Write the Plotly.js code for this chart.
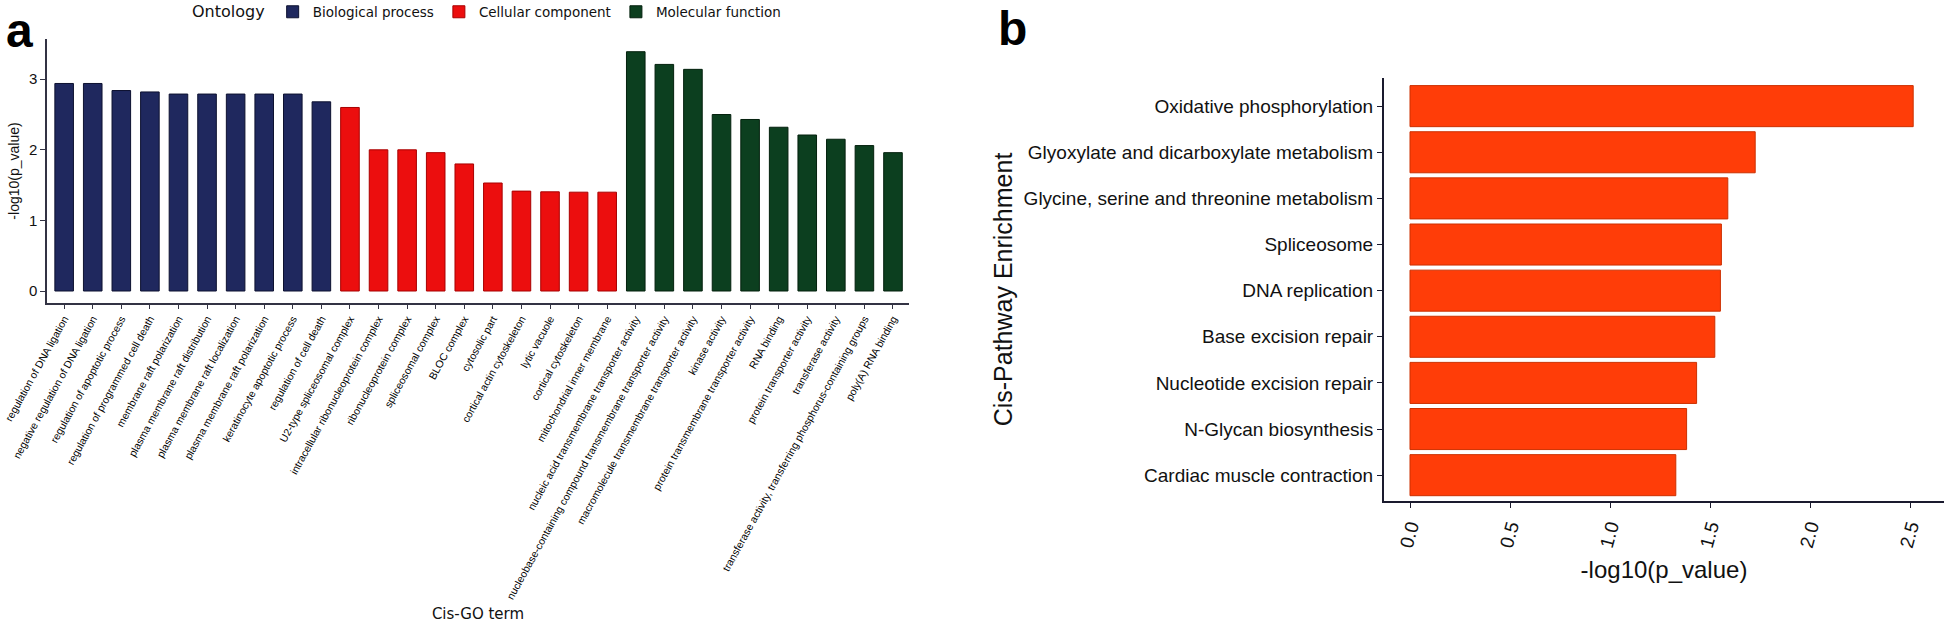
<!DOCTYPE html>
<html>
<head>
<meta charset="utf-8">
<script src="https://cdn.plot.ly/plotly-3.0.1.min.js"></script>
<style>html,body{margin:0;padding:0;background:#fff;}#chart{width:1946px;height:623px;}</style>
</head>
<body>
<div id="chart"></div>
<script>
// ---- Panel a: Cis-GO term enrichment ----
const bpTerms = ["regulation of DNA ligation","negative regulation of DNA ligation","regulation of apoptotic process","regulation of programmed cell death","membrane raft polarization","plasma membrane raft distribution","plasma membrane raft localization","plasma membrane raft polarization","keratinocyte apoptotic process","regulation of cell death"];
const bpValues = [2.94, 2.94, 2.84, 2.82, 2.79, 2.79, 2.79, 2.79, 2.79, 2.68];
const ccTerms = ["U2-type spliceosomal complex","intracellular ribonucleoprotein complex","ribonucleoprotein complex","spliceosomal complex","BLOC complex","cytosolic part","cortical actin cytoskeleton","lytic vacuole","cortical cytoskeleton","mitochondrial inner membrane"];
const ccValues = [2.60, 2.00, 2.00, 1.96, 1.80, 1.53, 1.415, 1.405, 1.40, 1.40];
const mfTerms = ["nucleic acid transmembrane transporter activity","nucleobase-containing compound transmembrane transporter activity","macromolecule transmembrane transporter activity","kinase activity","protein transmembrane transporter activity","RNA binding","protein transporter activity","transferase activity","transferase activity, transferring phosphorus-containing groups","poly(A) RNA binding"];
const mfValues = [3.39, 3.21, 3.14, 2.50, 2.43, 2.32, 2.21, 2.15, 2.06, 1.96];
const ontologyNames = ["Biological process","Cellular component","Molecular function"];

// ---- Panel b: Cis-Pathway enrichment (top to bottom) ----
const pathways = ["Oxidative phosphorylation","Glyoxylate and dicarboxylate metabolism","Glycine, serine and threonine metabolism","Spliceosome","DNA replication","Base excision repair","Nucleotide excision repair","N-Glycan biosynthesis","Cardiac muscle contraction"];
const pathwayValues = [2.516, 1.726, 1.589, 1.557, 1.552, 1.524, 1.433, 1.383, 1.329];
const pathwayTicks = [0, 0.5, 1.0, 1.5, 2.0, 2.5];

const allTerms = bpTerms.concat(ccTerms, mfTerms);
const W = 1946, H = 623;
const arial = "Liberation Sans, Arial, sans-serif";
const dejavu = "DejaVu Sans, Verdana, sans-serif";

function goTrace(terms, vals, name, color, line) {
  return {
    type: "bar", x: terms, y: vals, name: name,
    xaxis: "x", yaxis: "y", width: 0.65,
    marker: {color: color, line: {color: line, width: 1}},
    hoverinfo: "x+y"
  };
}

const traces = [
  goTrace(bpTerms, bpValues, ontologyNames[0], "#1f285e", "#0d1130"),
  goTrace(ccTerms, ccValues, ontologyNames[1], "#ec0e0e", "#a80000"),
  goTrace(mfTerms, mfValues, ontologyNames[2], "#0c3f1f", "#03200d"),
  {
    type: "bar", orientation: "h", x: pathwayValues, y: pathways,
    xaxis: "x2", yaxis: "y2", width: 0.89, showlegend: false,
    marker: {color: "#ff3d08", line: {color: "#cc3000", width: 1}},
    hoverinfo: "x+y"
  }
];

const layout = {
  width: W, height: H,
  margin: {l: 0, r: 0, t: 0, b: 0, autoexpand: false},
  paper_bgcolor: "#fff", plot_bgcolor: "#fff",
  barmode: "relative",
  showlegend: true,
  legend: {
    orientation: "h", xref: "container", yref: "container",
    x: 190 / W, xanchor: "left", y: 1 - 12 / H, yanchor: "middle",
    title: {text: "Ontology", side: "left", font: {family: dejavu, size: 16, color: "#111"}},
    font: {family: dejavu, size: 13.5, color: "#111"},
    bgcolor: "rgba(0,0,0,0)", itemclick: false, itemdoubleclick: false
  },
  xaxis: {
    domain: [47 / W, 909 / W], anchor: "y",
    type: "category", categoryorder: "array", categoryarray: allTerms,
    range: [-0.6, 29.56], automargin: false,
    showline: true, linecolor: "#333344", linewidth: 1.5,
    ticks: "outside", ticklen: 4, tickcolor: "#333344", tickwidth: 1.2,
    tickangle: -61, tickfont: {family: arial, size: 10.5, color: "#000"},
    showgrid: false, zeroline: false,
    title: {text: "Cis-GO term", font: {family: dejavu, size: 15, color: "#111"}, standoff: 10}
  },
  yaxis: {
    domain: [(H - 303) / H, (H - 39) / H], anchor: "x",
    range: [-0.17, 3.57], automargin: false,
    showline: true, linecolor: "#333344", linewidth: 1.5,
    ticks: "outside", ticklen: 5, tickcolor: "#333344", tickwidth: 1.2,
    tickvals: [0, 1, 2, 3], tickfont: {family: arial, size: 15, color: "#111"},
    showgrid: false, zeroline: false,
    title: {text: "-log10(p_value)", font: {family: arial, size: 14, color: "#111"}, standoff: 6}
  },
  xaxis2: {
    domain: [1384 / W, 1944 / W], anchor: "y2",
    range: [-0.13, 2.67], automargin: false,
    showline: true, linecolor: "#1a1a2e", linewidth: 2,
    ticks: "outside", ticklen: 5, tickcolor: "#1a1a2e", tickwidth: 1.2,
    tickvals: pathwayTicks, tickformat: ".1f", tickangle: -75,
    tickfont: {family: arial, size: 19, color: "#111"},
    showgrid: false, zeroline: false,
    title: {text: "-log10(p_value)", font: {family: arial, size: 24, color: "#111"}, standoff: 12}
  },
  yaxis2: {
    domain: [(H - 501) / H, (H - 78) / H], anchor: "x2",
    type: "category", categoryorder: "array", categoryarray: pathways,
    range: [8.56, -0.61], automargin: false,
    showline: true, linecolor: "#1a1a2e", linewidth: 2,
    ticks: "outside", ticklen: 5, tickcolor: "#1a1a2e", tickwidth: 1.2,
    tickfont: {family: arial, size: 19, color: "#111"},
    showgrid: false, zeroline: false,
    title: {text: "Cis-Pathway Enrichment", font: {family: arial, size: 25, color: "#111"}, standoff: 4}
  },
  annotations: [
    {text: "<b>a</b>", xref: "paper", yref: "paper", x: 4 / W, y: 1 - 2 / H, xanchor: "left", yanchor: "top", showarrow: false, font: {family: arial, size: 48, color: "#000"}},
    {text: "<b>b</b>", xref: "paper", yref: "paper", x: 996 / W, y: 1 - 0 / H, xanchor: "left", yanchor: "top", showarrow: false, font: {family: arial, size: 48, color: "#000"}}
  ]
};

Plotly.newPlot("chart", traces, layout, {displayModeBar: false, staticPlot: false});
</script>
</body>
</html>
